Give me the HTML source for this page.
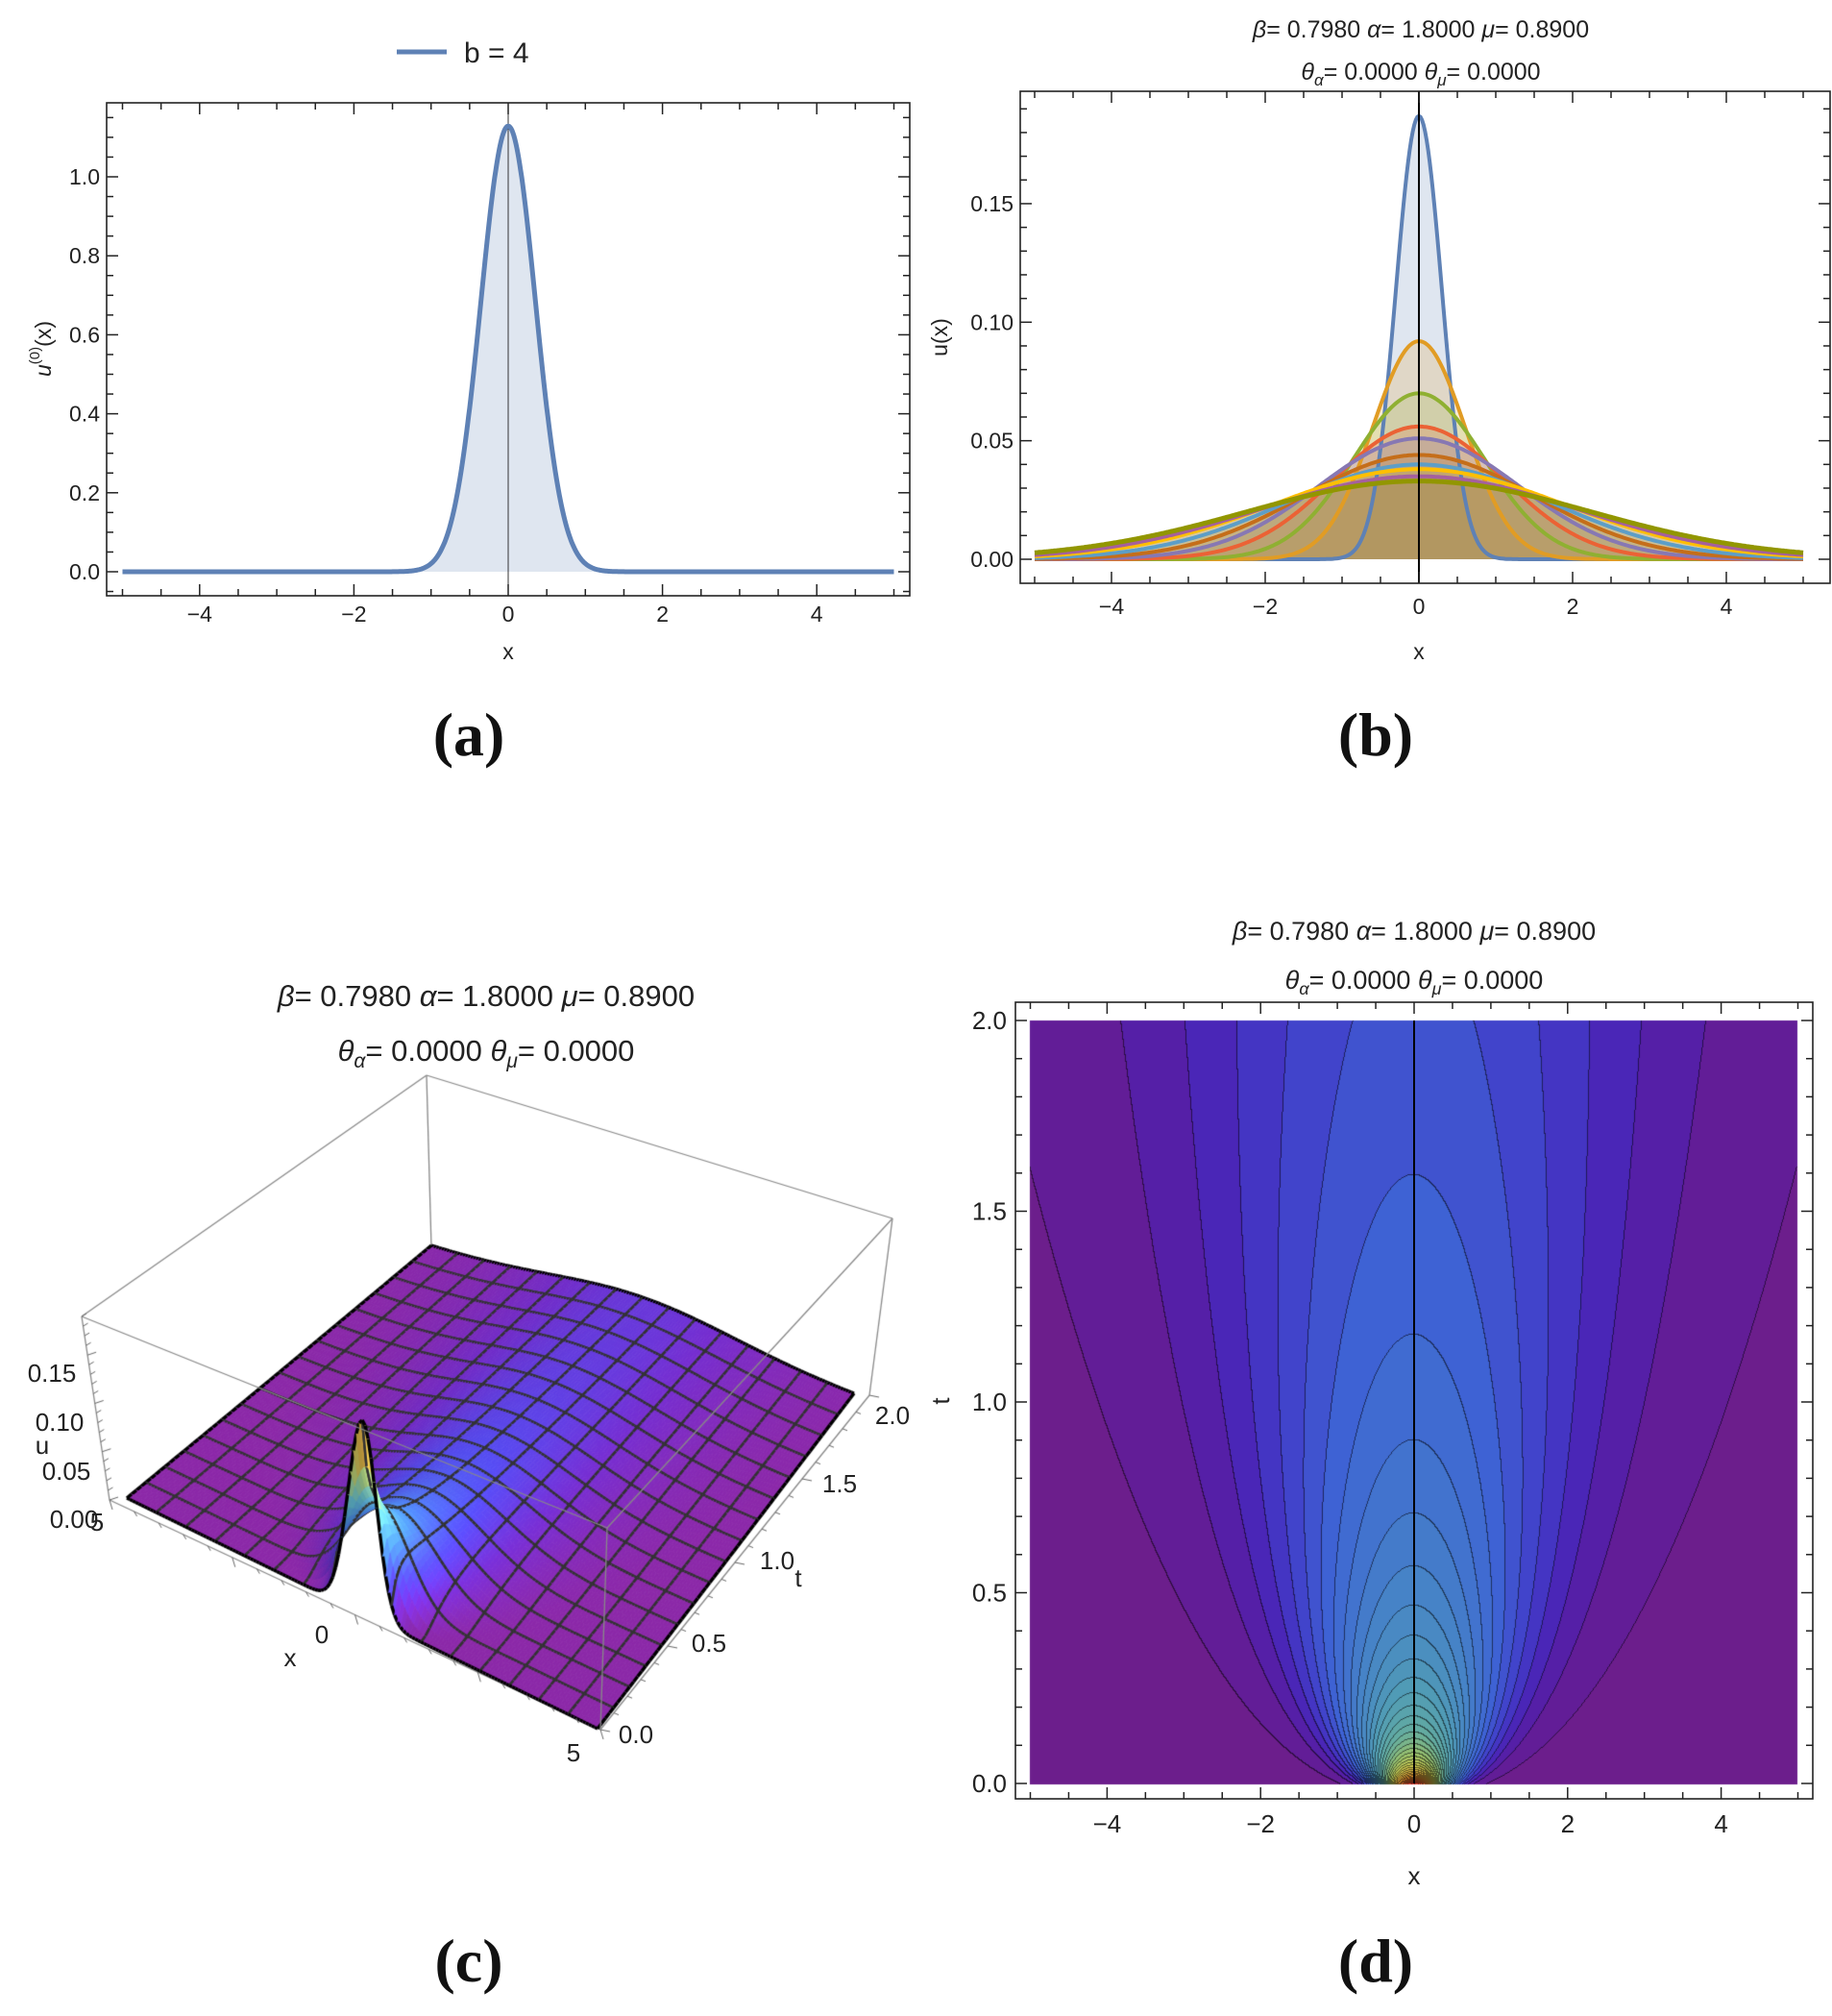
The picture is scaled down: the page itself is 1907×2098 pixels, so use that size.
<!DOCTYPE html>
<html><head><meta charset="utf-8">
<style>
html,body{margin:0;padding:0;background:#fff;}
#wrap{position:relative;width:1907px;height:2098px;overflow:hidden;}
canvas,svg{position:absolute;left:0;top:0;}
text{font-family:"Liberation Sans",sans-serif;fill:#222;}
.lab{font-family:"Liberation Serif",serif;font-weight:bold;font-size:64px;fill:#111;}
</style></head>
<body><div id="wrap">
<canvas id="cv" width="1907" height="2098"></canvas>
<svg id="sv" width="1907" height="2098" xmlns="http://www.w3.org/2000/svg">
<text class="lab" x="488" y="786" text-anchor="middle">(a)</text>
<text class="lab" x="1432" y="786" text-anchor="middle">(b)</text>
<text class="lab" x="488" y="2062" text-anchor="middle">(c)</text>
<text class="lab" x="1432" y="2062" text-anchor="middle">(d)</text>
<text x="1479" y="39" font-size="25" text-anchor="middle"><tspan font-style="italic">β</tspan>= 0.7980 <tspan font-style="italic">α</tspan>= 1.8000 <tspan font-style="italic">μ</tspan>= 0.8900</text>
<text x="1479" y="83" font-size="25" text-anchor="middle"><tspan font-style="italic">θ</tspan><tspan font-size="17" font-style="italic" dy="6">α</tspan><tspan dy="-6">= 0.0000 </tspan><tspan font-style="italic">θ</tspan><tspan font-size="17" font-style="italic" dy="6">μ</tspan><tspan dy="-6">= 0.0000</tspan></text>
<text x="506" y="1047" font-size="31" text-anchor="middle"><tspan font-style="italic">β</tspan>= 0.7980 <tspan font-style="italic">α</tspan>= 1.8000 <tspan font-style="italic">μ</tspan>= 0.8900</text>
<text x="506" y="1104" font-size="31" text-anchor="middle"><tspan font-style="italic">θ</tspan><tspan font-size="21" font-style="italic" dy="7">α</tspan><tspan dy="-7">= 0.0000 </tspan><tspan font-style="italic">θ</tspan><tspan font-size="21" font-style="italic" dy="7">μ</tspan><tspan dy="-7">= 0.0000</tspan></text>
<text x="1472" y="978" font-size="27" text-anchor="middle"><tspan font-style="italic">β</tspan>= 0.7980 <tspan font-style="italic">α</tspan>= 1.8000 <tspan font-style="italic">μ</tspan>= 0.8900</text>
<text x="1472" y="1029" font-size="27" text-anchor="middle"><tspan font-style="italic">θ</tspan><tspan font-size="18" font-style="italic" dy="6">α</tspan><tspan dy="-6">= 0.0000 </tspan><tspan font-style="italic">θ</tspan><tspan font-size="18" font-style="italic" dy="6">μ</tspan><tspan dy="-6">= 0.0000</tspan></text>
<line x1="413" y1="54" x2="465" y2="54" stroke="#5E81B5" stroke-width="5"/>
<text x="483" y="65" font-size="30">b = 4</text>
<g id="gen"></g>
<g font-size="26" text-anchor="middle">
<text x="54" y="1438">0.15</text>
<text x="62" y="1489">0.10</text>
<text x="44" y="1513">u</text>
<text x="69" y="1540">0.05</text>
<text x="77" y="1590">0.00</text>
<text x="101" y="1593">5</text>
<text x="335" y="1710">0</text>
<text x="302" y="1734">x</text>
<text x="597" y="1833">5</text>
<text x="662" y="1814">0.0</text>
<text x="738" y="1719">0.5</text>
<text x="809" y="1633">1.0</text>
<text x="831" y="1651">t</text>
<text x="874" y="1553">1.5</text>
<text x="929" y="1482">2.0</text>
</g>
</svg>
</div>
<script>
var svg='';
function T(x,y,s,size,anchor,rot){
  size=size||22;anchor=anchor||'middle';
  var tr='translate('+x+','+y+')';
  if(rot)tr+=' rotate('+rot+')';
  svg+='<text transform="'+tr+'" font-size="'+size+'" text-anchor="'+anchor+'" dominant-baseline="central">'+s+'</text>';
}
function L(x1,y1,x2,y2,c,w){svg+='<line x1="'+x1+'" y1="'+y1+'" x2="'+x2+'" y2="'+y2+'" stroke="'+(c||'#222')+'" stroke-width="'+(w||1.5)+'"/>';}
function frame(l,t,r,b){svg+='<rect x="'+l+'" y="'+t+'" width="'+(r-l)+'" height="'+(b-t)+'" fill="none" stroke="#222" stroke-width="1.6"/>';}
function xticks(l,t,r,b,xm,lo,hi,minor,major,fmt,ly,size){
  for(var v=lo;v<=hi+1e-9;v+=minor){
    var X=xm(v);var isM=Math.abs(v/major-Math.round(v/major))<1e-6;var len=isM?12:7;
    L(X,b,X,b-len);L(X,t,X,t+len);
    if(isM&&fmt)T(X,ly,fmt(v),size,'middle');
  }
}
function yticks(l,t,r,b,ym,lo,hi,minor,major,fmt,lx,size){
  for(var v=lo;v<=hi+1e-9;v+=minor){
    var Y=ym(v);var isM=Math.abs(v/major-Math.round(v/major))<1e-6;var len=isM?12:7;
    L(l,Y,l+len,Y);L(r,Y,r-len,Y);
    if(isM&&fmt)T(lx,Y,fmt(v),size,'end');
  }
}
function neg(v){var s=String(Math.round(v));return s.replace('-','−');}
(function(){
  var l=111,t=107,r=947,b=620;
  var xm=function(x){return 529+80.3*x;},ym=function(u){return 595-411*u;};
  var pts=[];for(var i=0;i<=800;i++){var x=-5+10*i/800;pts.push(xm(x).toFixed(1)+','+ym(1.1284*Math.exp(-4*x*x)).toFixed(1));}
  var d='M'+pts.join('L');
  svg+='<path d="'+d+'L'+xm(5)+','+ym(0)+'L'+xm(-5)+','+ym(0)+'Z" fill="rgba(94,129,181,0.2)"/>';
  L(xm(0),t,xm(0),b,'#333',1);
  svg+='<path d="'+d+'" fill="none" stroke="#5E81B5" stroke-width="5"/>';
  frame(l,t,r,b);
  xticks(l,t,r,b,xm,-5,5,0.5,2,neg,639,23);
  yticks(l,t,r,b,ym,-0.05,1.15,0.05,0.2,function(v){return Math.abs(v)<1e-9?'0.0':v.toFixed(1);},104,23);
  T(529,678,'x',23,'middle');
  svg+='<text transform="translate(45,363) rotate(-90)" font-size="23" text-anchor="middle" dominant-baseline="central"><tspan font-style="italic">u</tspan><tspan font-size="15" dy="-9">(0)</tspan><tspan dy="9">(x)</tspan></text>';
})();
(function(){
  var l=1062,t=95,r=1905,b=607;
  var xm=function(x){return 1477+80*x;},ym=function(u){return 582-2467*u;};
  var peaks=[0.187,0.092,0.070,0.056,0.051,0.044,0.040,0.038,0.035,0.033];
  var sig=[0.3,0.6,0.85,1.1,1.3,1.5,1.7,1.9,2.05,2.24];
  var cols=['#5E81B5','#E19C24','#8FB032','#EB6235','#8778B3','#C56E1A','#5D9EC7','#FFBF00','#A5609D','#929600'];
  var paths=[];
  for(var k=0;k<10;k++){
    var pts=[];for(var i=0;i<=500;i++){var x=-5+10*i/500;pts.push(xm(x).toFixed(1)+','+ym(peaks[k]*Math.exp(-x*x/(2*sig[k]*sig[k]))).toFixed(1));}
    var d='M'+pts.join('L');paths.push(d);
    svg+='<path d="'+d+'L'+xm(5)+','+ym(0)+'L'+xm(-5)+','+ym(0)+'Z" fill="'+cols[k]+'" fill-opacity="0.2"/>';
  }
  for(var k=0;k<10;k++)svg+='<path d="'+paths[k]+'" fill="none" stroke="'+cols[k]+'" stroke-width="'+(k==9?5:4)+'"/>';
  L(xm(0),t,xm(0),b,'#000',2);
  frame(l,t,r,b);
  xticks(l,t,r,b,xm,-5,5,0.5,2,neg,631,23);
  yticks(l,t,r,b,ym,0,0.19,0.01,0.05,function(v){return v.toFixed(2);},1055,23);
  T(1477,678,'x',23,'middle');
  T(978,351,'u(x)',23,'middle',-90);
})();
(function(){
  var l=1057,t=1043,r=1887,b=1872;
  var xm=function(x){return 1472+79.9*x;},ym=function(v){return 1856-397*v;};
  L(xm(0),ym(2),xm(0),ym(0),'#000',2);
  frame(l,t,r,b);
  xticks(l,t,r,b,xm,-5,5,0.5,2,neg,1898,26);
  yticks(l,t,r,b,ym,0,2,0.1,0.5,function(v){return v.toFixed(1);},1048,26);
  T(1472,1952,'x',26,'middle');
  T(979,1458,'t',26,'middle',-90);
})();
document.getElementById('gen').innerHTML=svg;

var cv=document.getElementById('cv'),ctx=cv.getContext('2d');
function U(x,t){var s2=0.09+2.4*t;var s=Math.sqrt(s2);return 0.14/(2.5066*s)*Math.exp(-x*x/(2*s2));}
function cmap(stops,v){
  if(v<=stops[0][0])return stops[0][1];
  for(var i=1;i<stops.length;i++){if(v<=stops[i][0]){var a=(v-stops[i-1][0])/(stops[i][0]-stops[i-1][0]);var c0=stops[i-1][1],c1=stops[i][1];return [c0[0]+(c1[0]-c0[0])*a,c0[1]+(c1[1]-c0[1])*a,c0[2]+(c1[2]-c0[2])*a];}}
  return stops[stops.length-1][1];
}
(function(){
  var X0=1072,Y0=1062,W=799,H=795;
  var stops=[[0,[108,30,140]],[0.03,[92,28,158]],[0.06,[75,35,180]],[0.1,[66,60,200]],[0.16,[62,98,212]],[0.25,[70,130,200]],[0.35,[80,155,182]],[0.45,[100,172,160]],[0.55,[150,192,110]],[0.65,[200,200,80]],[0.8,[232,150,50]],[1,[230,40,40]]];
  var D=0.0045,off=0.0012;
  var band=new Int32Array(W*H);
  for(var j=0;j<H;j++){var tt=2-j/(H-1)*2;
    for(var i=0;i<W;i++){var x=-5+10*i/(W-1);var u=U(x,tt);band[j*W+i]=Math.floor((u-off)/D);}}
  var img=ctx.createImageData(W,H);var dd=img.data;
  for(var j=0;j<H;j++)for(var i=0;i<W;i++){
    var k=j*W+i,bd=band[k];var um=Math.max(0,(bd+0.5)*D+off);var c=cmap(stops,um/0.19);
    var edge=(i+1<W&&band[k+1]!=bd)||(j+1<H&&band[k+W]!=bd);
    var f=edge?0.45:1;
    dd[k*4]=c[0]*f;dd[k*4+1]=c[1]*f;dd[k*4+2]=c[2]*f;dd[k*4+3]=255;
  }
  ctx.putImageData(img,X0,Y0);
})();
(function(){
  var FL=[132,1559],FR=[622,1799],BR=[889,1452],BL=[449,1298];
  var kFL=1030,kFR=1130,kBR=1000,kBL=970;
  function P(x,t,u){var a=(x+5)/10,b=t/2;
    var px=(1-a)*(1-b)*FL[0]+a*(1-b)*FR[0]+a*b*BR[0]+(1-a)*b*BL[0];
    var py=(1-a)*(1-b)*FL[1]+a*(1-b)*FR[1]+a*b*BR[1]+(1-a)*b*BL[1];
    var k=(1-a)*(1-b)*kFL+a*(1-b)*kFR+a*b*kBR+(1-a)*b*kBL;
    return [px,py-u*k];}
  var tFL=[85,1370],tFR=[632,1590],tBR=[929,1268],tBL=[444,1119];
  var bFL=[114,1561],bFR=[625,1800],bBR=[905,1452],bBL=[449,1298];
  ctx.strokeStyle='#888';ctx.lineWidth=1.3;
  function seg(a,b){ctx.beginPath();ctx.moveTo(a[0],a[1]);ctx.lineTo(b[0],b[1]);ctx.stroke();}
  seg(tBL,tBR);seg(tBL,tFL);seg(tBL,bBL);seg(tFL,bFL);seg(tBR,bBR);seg(bFL,bFR);seg(bFR,bBR);
  var stops=[[0,[140,40,168]],[0.1,[115,45,205]],[0.2,[85,75,240]],[0.35,[80,150,250]],[0.5,[110,210,230]],[0.65,[190,230,140]],[0.8,[235,200,80]],[1,[200,110,40]]];
  var M=160,N=64,ms=10,ns=4;
  var G=[],C=[];
  for(var j=0;j<=N;j++){G[j]=[];C[j]=[];for(var i=0;i<=M;i++){var x=-5+10*i/M,t=2*j/N;var u=U(x,t);G[j][i]=P(x,t,u);C[j][i]=u;}}
  function seg2(a,b){ctx.beginPath();ctx.moveTo(a[0],a[1]);ctx.lineTo(b[0],b[1]);ctx.stroke();}
  for(var j=N-1;j>=0;j--){
    for(var i=0;i<M;i++){
      var p1=G[j][i],p2=G[j][i+1],p3=G[j+1][i+1],p4=G[j+1][i];
      var u=(C[j][i]+C[j][i+1]+C[j+1][i]+C[j+1][i+1])/4;
      var c=cmap(stops,u/0.19);
      var sl=(C[j][i+1]-C[j][i])*40; var sh=1+Math.max(-0.25,Math.min(0.15,-sl));
      var col='rgb('+Math.min(255,c[0]*sh|0)+','+Math.min(255,c[1]*sh|0)+','+Math.min(255,c[2]*sh|0)+')';
      ctx.fillStyle=col;ctx.strokeStyle=col;ctx.lineWidth=0.8;
      ctx.beginPath();ctx.moveTo(p1[0],p1[1]);ctx.lineTo(p2[0],p2[1]);ctx.lineTo(p3[0],p3[1]);ctx.lineTo(p4[0],p4[1]);ctx.closePath();ctx.fill();ctx.stroke();
      ctx.strokeStyle='#333';ctx.lineWidth=2.6;
      if(i%ms==0&&i>0){seg2(p1,p4);}
      if((i+1)%ms==0&&i+1<M){seg2(p2,p3);}
      if(j%ns==0&&j>0){seg2(p1,p2);}
      if((j+1)%ns==0&&j+1<N){seg2(p4,p3);}
      ctx.strokeStyle='#000';ctx.lineWidth=3.5;
      if(i==0)seg2(p1,p4);
      if(i==M-1)seg2(p2,p3);
      if(j==0)seg2(p1,p2);
      if(j==N-1)seg2(p4,p3);
    }
  }
  ctx.strokeStyle='#888';ctx.lineWidth=1.3;
  seg(tFL,tFR);seg(tFR,tBR);seg(tFR,bFR);
  ctx.strokeStyle='#666';ctx.lineWidth=1;
  for(var q=0;q<=20;q++){var a=q/20;var px=bFL[0]+(bFR[0]-bFL[0])*a,py=bFL[1]+(bFR[1]-bFL[1])*a;seg([px,py],[px+3,py+(q%5==0?10:5)]);}
  for(var q=0;q<=20;q++){var a=q/20;var px=bFR[0]+(bBR[0]-bFR[0])*a,py=bFR[1]+(bBR[1]-bFR[1])*a;seg([px,py],[px+(q%5==0?10:5),py+2]);}
  for(var q=0;q<=19;q++){var a=q/19;var px=bFL[0]+(tFL[0]-bFL[0])*a,py=bFL[1]+(tFL[1]-bFL[1])*a;seg([px,py],[px+(q%5==0?9:5),py-3]);}
})();
</script>
</body></html>
